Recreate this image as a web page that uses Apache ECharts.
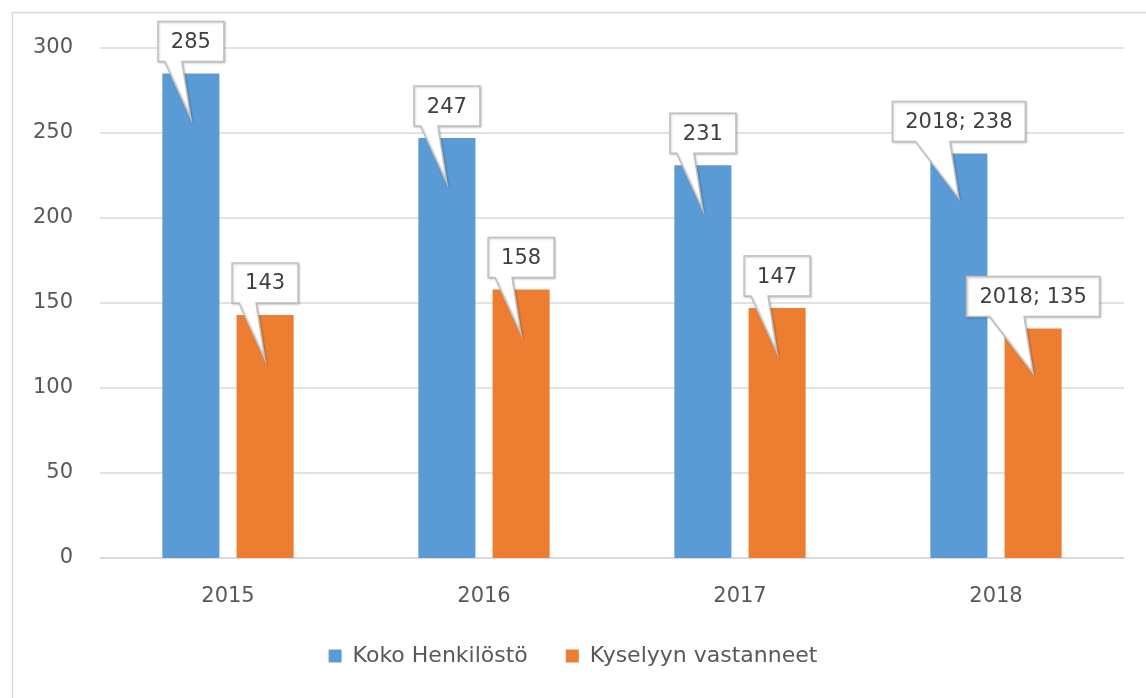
<!DOCTYPE html>
<html><head><meta charset="utf-8">
<script src="https://cdn.jsdelivr.net/npm/echarts@6/dist/echarts.min.js"></script>
<style>html,body{margin:0;padding:0;background:#fff}#c{width:1146px;height:698px}</style>
</head><body><div id="c"></div>
<script>
const categories = ['2015', '2016', '2017', '2018'];
const seriesNames = ['Koko Henkilöstö', 'Kyselyyn vastanneet'];
const kokoValues = [285, 247, 231, 238];
const vastanneetValues = [143, 158, 147, 135];
const kokoLabels = ['285', '247', '231', '2018; 238'];
const vastanneetLabels = ['143', '158', '147', '2018; 135'];
const yTicks = { min: 0, max: 300, interval: 50 };

const FONT = '"DejaVu Sans", sans-serif';
const LABEL_FONT_SIZE = 21;
const BAR_W = 0.223, BAR_GAP = 0.30;
const measureCtx = document.createElement('canvas').getContext('2d');
function textW(t) { measureCtx.font = LABEL_FONT_SIZE + 'px ' + FONT; return measureCtx.measureText(t).width; }

function calloutRenderer(labels, side) {
  return function (params, api) {
    const idx = params.dataIndex;
    const band = api.size([1, 0])[0];
    const bw = band * BAR_W;
    const off = side * (bw * BAR_GAP / 2 + bw / 2);
    const top = api.coord([api.value(0), api.value(1)]);
    const cx = top[0] + off;
    const barTop = top[1];
    const txt = labels[idx];
    const w = Math.round(textW(txt) + 26);
    const h = 40;
    const B = barTop - 12, T = B - h;
    const L = cx - w / 2, R = cx + w / 2;
    const baseR = cx - 9, baseL = cx - 9 - 0.26 * w;
    const tip = [cx, barTop + 45];
    return {
      type: 'group',
      children: [
        { type: 'polygon',
          shape: { points: [[L, T], [R, T], [R, B], [baseR, B], tip, [baseL, B], [L, B]] },
          style: { fill: '#fff', stroke: '#c0c0c0', lineWidth: 1.5, lineJoin: 'miter',
                   shadowBlur: 2, shadowColor: 'rgba(0,0,0,0.2)', shadowOffsetX: 1, shadowOffsetY: 1 } },
        { type: 'text',
          style: { text: txt, x: cx, y: (T + B) / 2 + 1, align: 'center', verticalAlign: 'middle',
                   fill: '#404040', font: LABEL_FONT_SIZE + 'px ' + FONT } }
      ]
    };
  };
}

const chart = echarts.init(document.getElementById('c'), null, { renderer: 'canvas' });
chart.setOption({
  animation: false,
  backgroundColor: '#fff',
  graphic: [{ type: 'rect', left: 10, top: 10, shape: { width: 1160, height: 700 },
    style: { fill: 'none', stroke: '#d9d9d9', lineWidth: 1.5 }, silent: true, z: -10 }],
  grid: { left: 100, right: 22, top: 48, bottom: 140 },
  legend: {
    bottom: 26, left: 'center', itemWidth: 13, itemHeight: 13, itemGap: 38, icon: 'rect',
    data: seriesNames,
    textStyle: { fontFamily: FONT, fontSize: 22, color: '#595959', padding: [0, 0, 0, 6] }
  },
  xAxis: {
    type: 'category', data: categories,
    axisLine: { lineStyle: { color: '#d9d9d9', width: 1.5 } },
    axisTick: { show: false },
    axisLabel: { fontFamily: FONT, fontSize: 21, color: '#595959', margin: 28 }
  },
  yAxis: {
    type: 'value', min: yTicks.min, max: yTicks.max, interval: yTicks.interval,
    axisLine: { show: false }, axisTick: { show: false },
    splitLine: { lineStyle: { color: '#d9d9d9', width: 1.5 } },
    axisLabel: { fontFamily: FONT, fontSize: 21, color: '#595959', margin: 27 }
  },
  series: [
    { name: seriesNames[0], type: 'bar', data: kokoValues, barWidth: (BAR_W * 100) + '%', barGap: (BAR_GAP * 100) + '%',
      itemStyle: { color: '#5b9bd5' } },
    { name: seriesNames[1], type: 'bar', data: vastanneetValues, barWidth: (BAR_W * 100) + '%', barGap: (BAR_GAP * 100) + '%',
      itemStyle: { color: '#ed7d31' } },
    { type: 'custom', z: 10, data: kokoValues.map((v, i) => [i, v]), renderItem: calloutRenderer(kokoLabels, -1), silent: true },
    { type: 'custom', z: 10, data: vastanneetValues.map((v, i) => [i, v]), renderItem: calloutRenderer(vastanneetLabels, 1), silent: true }
  ]
});
</script></body></html>
